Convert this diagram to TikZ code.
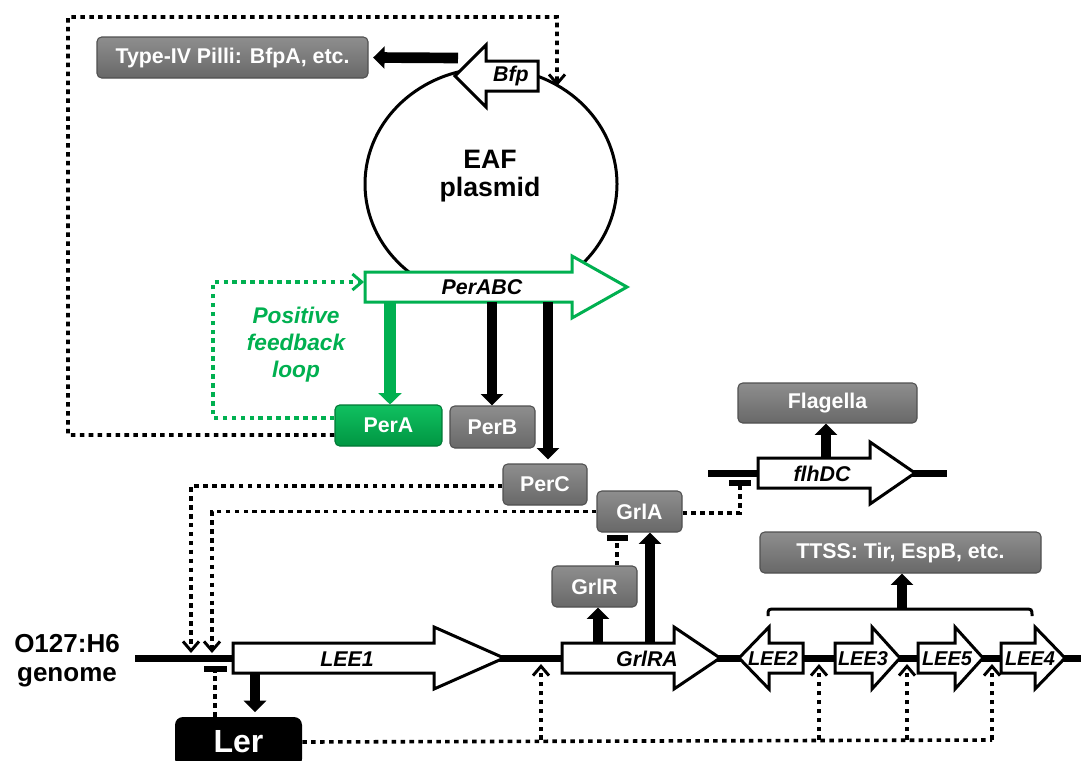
\documentclass[tikz,border=0pt]{standalone}
\usepackage{fontspec}
\setmainfont{Liberation Sans}
\usetikzlibrary{arrows.meta}

\definecolor{pgreen}{RGB}{0,176,80}
\definecolor{boxtop}{RGB}{142,142,142}
\definecolor{boxbot}{RGB}{104,104,104}
\definecolor{boxedge}{RGB}{80,80,80}
\definecolor{gtop}{RGB}{16,192,96}
\definecolor{gbot}{RGB}{0,150,66}

% block arrow pointing right: left end, head base, tip, centre line
\newcommand\generight[5][gene]{%
  \draw[#1] (#2,{#5-15}) -- (#3,{#5-15}) -- (#3,{#5-31}) -- (#4,#5)
    -- (#3,{#5+31}) -- (#3,{#5+15}) -- (#2,{#5+15}) -- cycle;}
% block arrow pointing left: tip, head base, right end, centre line
\newcommand\geneleft[5][gene]{%
  \draw[#1] (#2,#5) -- (#3,{#5-31}) -- (#3,{#5-15}) -- (#4,{#5-15})
    -- (#4,{#5+15}) -- (#3,{#5+15}) -- (#3,{#5+31}) -- cycle;}

\begin{document}
\begin{tikzpicture}[x=0.75pt,y=-0.75pt,
  gene/.style={draw=black,fill=white,line width=2.25pt,line join=miter},
  genegreen/.style={gene,draw=pgreen},
  glabel/.style={font=\bfseries\itshape\fontsize{16}{18}\selectfont,inner sep=0pt},
  slabel/.style={font=\bfseries\itshape\fontsize{15}{18}\selectfont,inner sep=0pt},
  pbox/.style={rounded corners=3.5pt,draw=boxedge,line width=0.8pt,
    top color=boxtop,bottom color=boxbot,text=white,inner sep=0pt,
    font=\bfseries\fontsize{16}{18}\selectfont,minimum height=30.75pt},
  gbox/.style={pbox,draw=gbot!80!black,top color=gtop,bottom color=gbot},
  lerbox/.style={rounded corners=6pt,fill=black,text=white,inner sep=0pt,
    font=\bfseries\fontsize{24}{26}\selectfont,minimum width=95.25pt,minimum height=37.5pt},
  thickarr/.style={line width=8pt,-{Triangle[width=16.5pt,length=8.5pt]}},
  dotline/.style={line width=2.7pt,dash pattern=on 3.4pt off 3.3pt},
  openarr/.style={-{Straight Barb[width=12pt,length=7pt,line width=2.2pt]}},
  repbar/.style={line width=4pt},
]
\fill[white] (0,0) rectangle (1081,760);
\path[use as bounding box] (0,0) rectangle (1081,760);

% ---------- EAF plasmid ----------
\draw[line width=2.25pt] (491,184) ellipse[x radius=126,y radius=116];
\node[font=\bfseries\fontsize{20}{21}\selectfont,align=center] (eaf) at (490,176) {EAF\\plasmid};

\geneleft{455}{486}{538}{76}
\node[glabel] (bfp) at (511,76) {Bfp};

\generight[genegreen]{365}{572}{627}{287}
\node[glabel] (perabc) at (482,287) {PerABC};

% ---------- chromosome ----------
\draw[line width=5.25pt] (135,658) -- (1081,658);
\draw[line width=5.25pt] (708,473) -- (947,473);

\generight{233}{434}{504}{658}
\node[glabel] (lee1) at (347,659) {LEE1};
\generight{562}{674}{720}{658}
\node[glabel] (grlra) at (647,659) {GrlRA};
\geneleft{739}{769}{803}{658}
\node[slabel] (lee2) at (773,659) {LEE2};
\generight{835}{872}{900}{658}
\node[slabel] (lee3) at (863,659) {LEE3};
\generight{918}{955}{983}{658}
\node[slabel] (lee5) at (947,659) {LEE5};
\generight{1001}{1035}{1065}{658}
\node[slabel] (lee4) at (1030,659) {LEE4};
\generight{758}{870}{915}{473}
\node[glabel] (flhdc) at (822,474) {flhDC};

\node[font=\bfseries\fontsize{19.5}{21.75}\selectfont,align=center] (genome) at (67,661) {O127:H6\\genome};

% ---------- gene products ----------
\node[pbox,minimum width=203.25pt] (pilli) at (232.5,57.5) {Type-IV Pilli: BfpA, etc.};
\node[gbox,minimum width=80.25pt] (perA) at (388.5,425.5) {PerA};
\node[pbox,minimum width=63.75pt,minimum height=31.5pt] (perB) at (492.5,427) {PerB};
\node[pbox,minimum width=63pt] (perC) at (545,484.5) {PerC};
\node[pbox,minimum width=63.75pt] (grlA) at (639.5,511.5) {GrlA};
\node[pbox,minimum width=63.75pt] (grlR) at (594.5,586.5) {GrlR};
\node[pbox,minimum width=134.25pt,minimum height=30pt] (flag) at (827.5,403) {Flagella};
\node[pbox,minimum width=210.75pt] (ttss) at (900.5,552.5) {TTSS: Tir, EspB, etc.};
\node[lerbox] (ler) at (238.5,742) {Ler};

% ---------- attachment points on the genes ----------
\coordinate (bfpout) at (458,58);
\coordinate (perabcA) at (390,302);
\coordinate (perabcB) at (492,302);
\coordinate (perabcC) at (548,302);
\coordinate (perabcin) at (364,282);
\coordinate (lee1out) at (255,673);
\coordinate (grlraR) at (598,643);
\coordinate (grlraA) at (650,643);
\coordinate (flhdcout) at (826,457);
\coordinate (bfpin) at (557,86);
\coordinate (lee1pa) at (191,653);
\coordinate (lee1pb) at (212,653);
\coordinate (grlrapr) at (541,664);
\coordinate (lee3pr) at (819,664);
\coordinate (lee5pr) at (907,664);
\coordinate (lee4pr) at (992,664);
\coordinate (lee1bar) at (215,669);
\coordinate (grlAbar) at (617,538);
\coordinate (flhbar) at (740,483);

% ---------- expression arrows ----------
\draw[thickarr] (bfpout) -- ([xshift=3.5pt]pilli.east);
\draw[thickarr,draw=pgreen,fill=pgreen,line width=9pt,-{Triangle[width=17pt,length=8.5pt]}]
  (perabcA) -- (perabcA |- perA.north);
\draw[thickarr] (perabcB) -- (perabcB |- perB.north);
\draw[thickarr] (perabcC) -- ([yshift=3pt]perabcC |- perC.north);
\draw[thickarr] (lee1out) -- ([yshift=3.5pt]lee1out |- ler.north);
\draw[thickarr] (grlraR) -- (grlraR |- grlR.south);
\draw[thickarr] (grlraA) -- (grlraA |- grlA.south);
\draw[thickarr] (flhdcout) -- (flhdcout |- flag.south);

% bracket over the LEE2--LEE4 operons
\draw[line width=2.25pt] (768,616) .. controls (768,609) .. (776,609) -- (1024,609)
  .. controls (1032,609) .. (1032,616);
\coordinate (brace) at (902,609);
\draw[thickarr] (brace) -- (brace |- ttss.south);

% ---------- regulatory links ----------
\draw[dotline,draw=pgreen,openarr] ([yshift=5.6pt]perA.west) -| (213,282) -- (perabcin);
\node[font=\bfseries\itshape\fontsize{17}{20.25}\selectfont,text=pgreen,align=center] (loop)
  at (296,345) {Positive\\feedback\\loop};

\draw[dotline,openarr] ([yshift=-7.1pt]perA.west) -- (68,435) -- (68,17) -- (557,17) -- (bfpin);
\draw[dotline,openarr] ([yshift=-1.1pt]perC.west) -| (lee1pa);
\draw[dotline,openarr] (grlA.west) -| (lee1pb);

\draw[dotline] (ler.north -| lee1bar) -- ([yshift=-2pt]lee1bar);
\draw[repbar] (204,669) -- (227,669);

\draw[dotline] (grlR.north -| grlAbar) -- ([yshift=-2pt]grlAbar);
\draw[repbar] (607,538) -- (628,538);

\draw[dotline] ([yshift=-1pt]grlA.east) -| ([yshift=-2pt]flhbar);
\draw[repbar] (729,483) -- (751,483);

\draw[dotline] (ler.east) -- (992,740);
\draw[dotline,openarr] (541,740) -- (grlrapr);
\draw[dotline,openarr] (819,740) -- (lee3pr);
\draw[dotline,openarr] (907,740) -- (lee5pr);
\draw[dotline,openarr] (992,740) -- (lee4pr);
\end{tikzpicture}
\end{document}
